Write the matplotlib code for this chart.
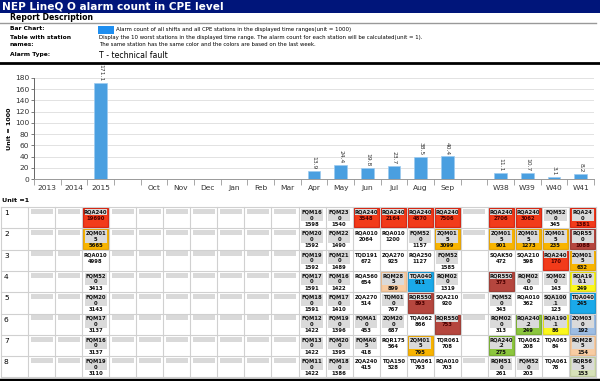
import matplotlib
matplotlib.use("Agg")
import matplotlib.pyplot as plt
from matplotlib.patches import Rectangle

# bar chart: alarm count of all CPE stations (unit = 1000)
periods = ["2013", "2014", "2015", "", "Oct", "Nov", "Dec", "Jan", "Feb", "Mar",
           "Apr", "May", "Jun", "Jul", "Aug", "Sep", "", "W38", "W39", "W40", "W41"]
alarm_k = [None, None, 171.1, None, None, None, None, None, None, None,
           13.9, 24.4, 19.8, 23.7, 38.5, 40.4, None, 11.1, 10.7, 3.1, 8.2]

# worst stations per period, rows 1..8 (unit = 1)
stations = {
    "2015": ["RQA240", "ZQM01\n5", "RQA010", "FQM52\n0", "FQM20\n0", "FQM17\n0", "FQM16\n0", "FQM19\n0"],
    "Apr": ["FQM16\n0", "FQM20\n0", "FQM19\n0", "FQM17\n0", "FQM18\n0", "FQM12\n0", "FQM13\n0", "FQM11\n0"],
    "May": ["FQM23\n0", "FQM22\n0", "FQM21\n0", "FQM16\n0", "FQM17\n0", "FQM19\n0", "FQM20\n0", "FQM18\n0"],
    "Jun": ["RQA240", "RQA010", "TQD191", "RQA560", "ZQA270", "FQMA1\n0", "FQMA0\n5", "ZQA240"],
    "Jul": ["RQA240", "RQA010", "ZQA270", "RQM28\n5", "TQM01\n0", "ZQM20\n0", "RQR175", "TQA150"],
    "Aug": ["RQA240", "FQM52\n0", "RQA250", "TQA040", "RQR550", "TQA062", "ZQM01\n5", "TQA061"],
    "Sep": ["RQA240", "ZQM01\n5", "FQM52\n0", "RQM02\n0", "SQA210", "RQR550", "TQR061", "RQA010"],
    "W38": ["RQA240", "ZQM01\n5", "SQAK50", "RQR550", "FQM52\n0", "RQM02\n0", "RQA240\n.2", "RQM51\n0"],
    "W39": ["RQA240", "ZQM01\n5", "SQA210", "RQM02\n0", "RQA010", "RQA240\n.2", "TQA062", "FQM52\n0"],
    "W40": ["FQM52\n0", "ZQM01\n5", "RQA240", "SQM02\n0", "SQA100\n.1", "RQA190\n.1", "TQA063", "TQA061"],
    "W41": ["RQA24\n0", "RQR55\n0", "ZQM01\n5", "RQA19\n0.1", "TQA040", "ZQM03\n0", "RQM28\n5", "RQR56\n5"],
}
counts = {
    "2015": [19690, 5665, 4998, 3413, 3143, 3137, 3137, 3110],
    "Apr": [1598, 1592, 1592, 1591, 1591, 1422, 1422, 1422],
    "May": [1540, 1490, 1489, 1422, 1410, 1396, 1395, 1386],
    "Jun": [3548, 2064, 672, 654, 514, 453, 418, 415],
    "Jul": [2164, 1200, 925, 899, 767, 687, 564, 528],
    "Aug": [4870, 1157, 1127, 911, 893, 866, 795, 793],
    "Sep": [7506, 3099, 1585, 1319, 920, 753, 708, 703],
    "W38": [2706, 901, 472, 373, 343, 313, 275, 261],
    "W39": [3062, 1273, 598, 410, 362, 249, 208, 203],
    "W40": [345, 235, 170, 143, 123, 86, 84, 78],
    "W41": [1381, 1088, 632, 249, 245, 192, 154, 153],
}
# colour key of each cell (based on last week)
shade = {
    "2015": ["R", "O", "", "", "", "", "", ""],
    "Jun": ["R", "", "", "", "", "", "", ""],
    "Jul": ["R", "", "", "P", "", "", "", ""],
    "Aug": ["R", "", "", "C", "B", "", "O", ""],
    "Sep": ["R", "O", "", "", "", "B", "", ""],
    "W38": ["R", "O", "", "B", "", "", "G", ""],
    "W39": ["R", "O", "", "", "", "G", "", ""],
    "W40": ["", "O", "R", "", "", "Y", "", ""],
    "W41": ["R", "B", "O", "Y", "C", "L", "P", "S"],
}
palette = {
    "R": ("#f23b1a", "#d6200c"), "O": ("#f8b400", "#e5a200"), "B": ("#b5463e", "#9c3830"),
    "C": ("#1aa9e9", "#1193cf"), "G": ("#8cc63e", "#76ad2e"), "Y": ("#fbf71c", "#e0dc10"),
    "P": ("#f8cca2", "#e8b98c"), "L": ("#9dbde3", "#86a8d2"), "S": ("#d6e1b8", "#c0cc9e"),
}
# placeholder bars in empty cells of the second spacer column
spacer_rows = [0, 1, 4, 5, 7]

fig = plt.figure(figsize=(6, 3.81), dpi=100)
bg = fig.add_axes([0, 0, 1, 1])
bg.set_xlim(0, 600)
bg.set_ylim(381, 0)
bg.axis("off")

# header
bg.add_patch(Rectangle((0, 0), 600, 12.5, fc="#00157a", ec="none"))
bg.text(2, 6.5, "NEP LineQ O alarm count in CPE level", color="white", fontsize=7.6,
        fontweight="bold", va="center", ha="left")
bg.text(10, 18, "Report Description", fontsize=5.6, fontweight="bold", va="center")
bg.plot([0, 596], [23, 23], color="#999999", lw=1)
bg.text(10, 29, "Bar Chart:", fontsize=4.3, fontweight="bold", va="center")
bg.add_patch(Rectangle((98, 25.5), 16, 8, fc="#1e8ef0", ec="none"))
bg.text(116, 29, "Alarm count of all shifts and all CPE stations in the displayed time ranges(unit = 1000)",
        fontsize=3.9, va="center")
bg.text(10, 37.5, "Table with station", fontsize=4.3, fontweight="bold", va="center")
bg.text(10, 44, "names:", fontsize=4.3, fontweight="bold", va="center")
bg.text(99, 37.5, "Display the 10 worst stations in the displayed time range. The alarm count for each station will be calculated(unit = 1).",
        fontsize=3.9, va="center")
bg.text(99, 44, "The same station has the same color and the colors are based on the last week.",
        fontsize=3.9, va="center")
bg.text(10, 54.5, "Alarm Type:", fontsize=4.3, fontweight="bold", va="center")
bg.text(99, 55, "T - technical fault", fontsize=5.6, va="center")
bg.plot([0, 600], [62.5, 62.5], color="black", lw=2)

# bar chart
ax = fig.add_axes([34 / 600, 1 - 179 / 381, 560 / 600, 101 / 381])
xs = list(range(len(periods)))
for i, v in enumerate(alarm_k):
    if v is None:
        continue
    ax.bar(i, v, width=0.48, color="#4a9fe0", edgecolor="#9ccbf0", linewidth=0.5)
    ax.text(i, v + 3, f"{v}", rotation=270, ha="center", va="bottom", fontsize=4.3,
            color="#333333", clip_on=False)
ax.set_xlim(-0.5, len(periods) - 0.5)
ax.set_ylim(0, 180)
ax.set_yticks(range(0, 181, 20))
ax.set_xticks(xs)
ax.set_xticklabels(periods)
ax.set_xticks([i - 0.5 for i in range(len(periods) + 1)], minor=True)
ax.tick_params(axis="x", which="major", length=0, labelsize=5.4, labelcolor="#333333", pad=4)
ax.tick_params(axis="x", which="minor", length=4, color="#999999", width=0.6)
ax.tick_params(axis="y", length=2, labelsize=5.4, labelcolor="#333333", pad=1.5, color="#666666", width=0.6)
ax.grid(axis="y", color="#dddddd", lw=0.6)
ax.set_axisbelow(True)
for s in ["top", "right"]:
    ax.spines[s].set_visible(False)
ax.spines["left"].set_color("#666666")
ax.spines["bottom"].set_color("#999999")
ax.spines["left"].set_linewidth(0.7)
ax.spines["bottom"].set_linewidth(0.7)
ax.set_ylabel("Unit = 1000", fontsize=4.6, fontweight="bold", labelpad=2)

# table
bg.text(2, 201, "Unit =1", fontsize=4.6, fontweight="bold", va="center")
top, row_h, n_rows = 207, 21.3, 8
left0, col_w = 28, 27.05
right = left0 + col_w * len(periods)
for r in range(n_rows + 1):
    bg.plot([1, right], [top + r * row_h] * 2, color="#d0d0d0", lw=0.8)
bg.plot([1, 1], [top, top + n_rows * row_h], color="#d0d0d0", lw=0.8)
for c in range(len(periods) + 1):
    bg.plot([left0 + c * col_w] * 2, [top, top + n_rows * row_h], color="#d0d0d0", lw=0.8)
for r in range(n_rows):
    bg.text(4, top + r * row_h + 6, str(r + 1), fontsize=5.4, va="center")

for c, p in enumerate(periods):
    x0 = left0 + c * col_w
    for r in range(n_rows):
        y0 = top + r * row_h
        if p in stations:
            name = stations[p][r]
            key = shade.get(p, [""] * n_rows)[r]
            lines = name.split("\n")
            if key:
                fc, ec = palette[key]
                bg.add_patch(Rectangle((x0 + 1, y0 + 1), col_w - 2, row_h - 2, fc=fc, ec=ec, lw=0.9))
            if key or len(lines) > 1:
                bg.add_patch(Rectangle((x0 + 2.5, y0 + 1.8), col_w - 5, 6 * len(lines) + 0.4,
                                       fc="#dadada", ec="none"))
            for k, ln in enumerate(lines):
                bg.text(x0 + col_w / 2, y0 + 5 + 6 * k, ln, fontsize=3.8, fontweight="bold",
                        ha="center", va="center", color="#111111")
            cnt_col = "#4a0000" if key in ("R", "B") else "#111111"
            bg.text(x0 + col_w / 2, y0 + 5.5 + 6 * len(lines), str(counts[p][r]), fontsize=3.8,
                    fontweight="bold", ha="center", va="center", color=cnt_col)
        elif p != "" or c < 10 or r in spacer_rows:
            bg.add_patch(Rectangle((x0 + 2.5, y0 + 1.8), col_w - 5, 5, fc="#d9d9d9", ec="none"))

bg.plot([0, 600], [380, 380], color="black", lw=2.5)

fig.savefig("out.png", dpi=100)
